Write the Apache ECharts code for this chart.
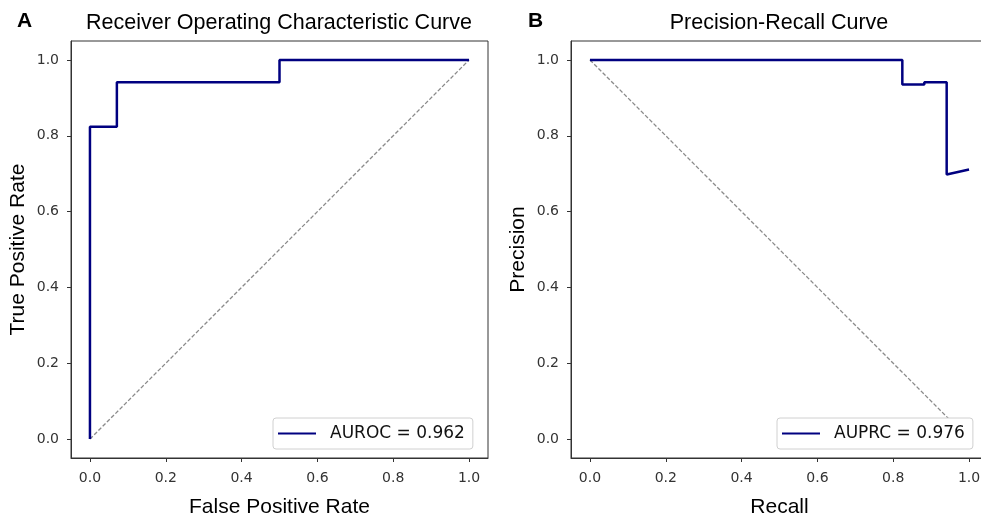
<!DOCTYPE html>
<html>
<head>
<meta charset="utf-8">
<script src="https://cdn.jsdelivr.net/npm/echarts@6/dist/echarts.min.js"></script>
<style>
html,body{margin:0;padding:0;background:#fff;}
#chart{width:981px;height:519px;}
</style>
</head>
<body>
<div id="chart"></div>
<script>
// ROC curve (step points)
const rocFpr = [0, 0, 0.071, 0.071, 0.5, 0.5, 1.0];
const rocTpr = [0, 0.824, 0.824, 0.941, 0.941, 1.0, 1.0];
const rocChanceX = [0, 1];
const rocChanceY = [0, 1];
// Precision-Recall curve
const prRecall = [0, 0.824, 0.824, 0.882, 0.882, 0.941, 0.941, 1.0];
const prPrecision = [1.0, 1.0, 0.935, 0.935, 0.941, 0.941, 0.698, 0.711];
const prChanceX = [0, 1];
const prChanceY = [1, 0];
const tickValues = [0, 0.2, 0.4, 0.6, 0.8, 1.0];
const rocLegend = 'AUROC = 0.962';
const prLegend = 'AUPRC = 0.976';

const zip = (xs, ys) => xs.map((x, i) => [x, ys[i]]);

const arial = '"Liberation Sans", Arial, sans-serif';
const dejavu = '"DejaVu Sans", sans-serif';

function makeAxis(gi, name, gap, margin) {
  return {
    type: 'value', gridIndex: gi, min: -0.05, max: 1.05,
    name: name, nameLocation: 'middle', nameGap: gap,
    nameTextStyle: {fontFamily: arial, fontSize: 21, color: '#000'},
    axisLine: {show: true, onZero: false, lineStyle: {color: '#333', width: 1}},
    axisTick: {show: true, customValues: tickValues, length: 4, inside: false, lineStyle: {color: '#333'}},
    axisLabel: {customValues: tickValues, formatter: v => v.toFixed(1), fontFamily: dejavu, fontSize: 14, color: '#333', margin: margin},
    splitLine: {show: false}
  };
}

function legendFor(left, name) {
  return {
    data: [name], left: left, top: 418, orient: 'horizontal',
    backgroundColor: '#fff', borderColor: '#d0d0d0', borderWidth: 1, borderRadius: 3,
    padding: [7, 8, 7, 5],
    icon: 'rect', itemWidth: 38, itemHeight: 2,
    textStyle: {fontFamily: dejavu, fontSize: 17, color: '#111', padding: [0, 0, 0, 9]},
    selectedMode: false
  };
}

const chart = echarts.init(document.getElementById('chart'), null, {renderer: 'canvas'});
chart.setOption({
  animation: false,
  backgroundColor: '#fff',
  title: [
    {text: 'A', left: 12, top: 6, textStyle: {fontFamily: arial, fontWeight: 'bold', fontSize: 21, color: '#000'}},
    {text: 'B', left: 523, top: 6, textStyle: {fontFamily: arial, fontWeight: 'bold', fontSize: 21, color: '#000'}},
    {text: 'Receiver Operating Characteristic Curve', left: 274, top: 7, textAlign: 'center', textStyle: {fontFamily: arial, fontWeight: 'normal', fontSize: 21.5, color: '#000'}},
    {text: 'Precision-Recall Curve', left: 774, top: 7, textAlign: 'center', textStyle: {fontFamily: arial, fontWeight: 'normal', fontSize: 21.5, color: '#000'}}
  ],
  grid: [
    {left: 71, top: 41, width: 417, height: 417, outerBoundsMode: 'none', containLabel: false, show: true, borderColor: '#333', borderWidth: 1, backgroundColor: 'transparent'},
    {left: 571, top: 41, width: 417, height: 417, outerBoundsMode: 'none', containLabel: false, show: true, borderColor: '#333', borderWidth: 1, backgroundColor: 'transparent'}
  ],
  xAxis: [makeAxis(0, 'False Positive Rate', 39, 13), makeAxis(1, 'Recall', 39, 13)],
  yAxis: [makeAxis(0, 'True Positive Rate', 42, 12), makeAxis(1, 'Precision', 42, 12)],
  legend: [legendFor(273, rocLegend), legendFor(777, prLegend)],
  series: [
    {name: 'rocChance', type: 'line', xAxisIndex: 0, yAxisIndex: 0, data: zip(rocChanceX, rocChanceY), showSymbol: false, lineStyle: {color: '#8a8a8a', width: 1.3, type: [4, 2]}, z: 1},
    {name: rocLegend, type: 'line', xAxisIndex: 0, yAxisIndex: 0, data: zip(rocFpr, rocTpr), showSymbol: false, color: '#000080', lineStyle: {color: '#000080', width: 2.5}, z: 2},
    {name: 'prChance', type: 'line', xAxisIndex: 1, yAxisIndex: 1, data: zip(prChanceX, prChanceY), showSymbol: false, lineStyle: {color: '#8a8a8a', width: 1.3, type: [4, 2]}, z: 1},
    {name: prLegend, type: 'line', xAxisIndex: 1, yAxisIndex: 1, data: zip(prRecall, prPrecision), showSymbol: false, color: '#000080', lineStyle: {color: '#000080', width: 2.5}, z: 2}
  ]
});
</script>
</body>
</html>
